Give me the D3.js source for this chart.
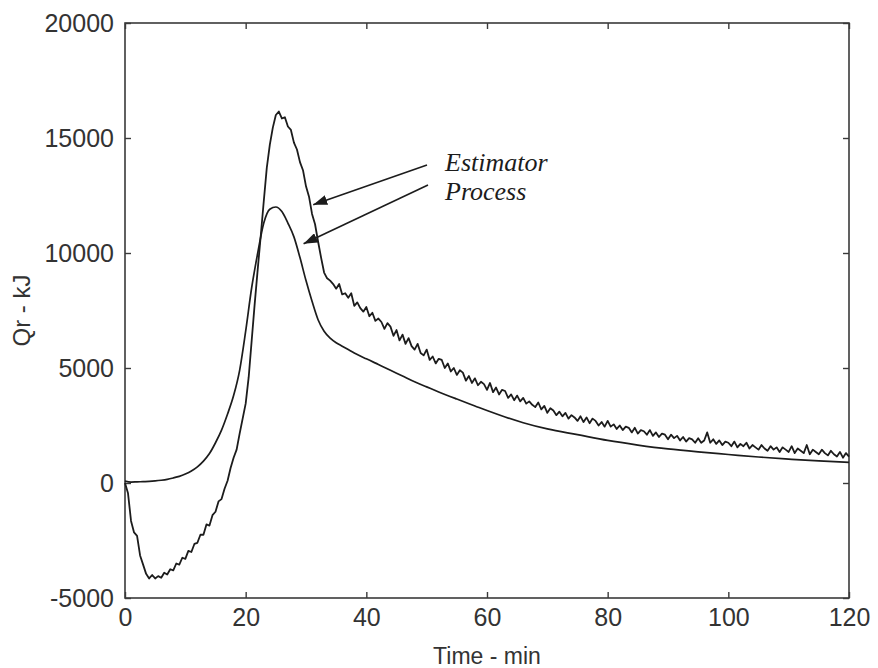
<!DOCTYPE html>
<html><head><meta charset="utf-8">
<script src="https://cdn.jsdelivr.net/npm/d3@7"></script>
<style>body{margin:0;background:#fff}svg{display:block}</style>
</head><body>
<svg id="c" width="878" height="668"></svg>
<script>
// ---- data ----
const xTicks = [0, 20, 40, 60, 80, 100, 120];
const yTicks = [-5000, 0, 5000, 10000, 15000, 20000];

// Process (smooth) curve: time (min) and Qr (kJ)
const procT = [0,1,2,3,4,5,6,7,8,9,10,11,12,13,14,15,16,17,18,19,20,21,22,23,24,25,26,27,28,29,30,31,32,33,34,35,36,37,38,39,40,42,44,46,48,50,52,55,58,60,63,66,70,75,80,85,90,95,100,105,110,115,120];
const procQ = [80,40,50,60,70,90,120,160,220,290,390,520,700,950,1280,1750,2300,3000,3800,4900,6600,8500,10000,11300,11900,12000,11800,11300,10700,9800,8800,7900,7100,6600,6300,6100,5950,5800,5650,5520,5400,5150,4900,4650,4400,4180,3960,3650,3350,3150,2870,2620,2350,2100,1850,1650,1480,1350,1240,1130,1040,960,900];

// Estimator (noisy) curve, sampled every 0.5 min starting at t = 0
const estStart = 0, estStep = 0.5;
const estQ = [
0,-450,-1650,-2150,-2300,-3150,-3550,-3950,-4150,-4000,
-4150,-4050,-4120,-3900,-3980,-3750,-3800,-3500,-3550,-3250,
-3300,-2950,-3000,-2650,-2600,-2250,-2250,-1800,-1850,-1400,
-1250,-800,-700,-250,100,650,1100,1450,2150,2800,
3450,4600,6200,7800,9300,10750,12250,13700,14700,15450,
16000,16150,15850,15900,15500,15350,14800,14500,13950,13600,
12900,12450,11700,11250,10500,9800,
9150,8900,8800,8650,8450,8650,8200,8250,8050,8250,
7700,7850,7600,7450,7650,7250,7400,7050,7150,7000,
6700,6950,6800,6400,6650,6200,6450,6050,6300,5950,
5800,6050,5650,5550,5800,5350,5500,5200,5400,5350,
5000,5200,4850,5000,4700,4900,4800,4450,4650,4350,
4550,4250,4400,4300,4050,4350,3950,4150,3850,4050,
4000,3700,3850,3600,3800,3550,3700,3450,3550,3400,
3300,3500,3200,3350,3050,3250,3150,2950,3100,2900,
3050,2800,2950,2850,2700,2900,2650,2850,2600,2800,
2700,2500,2650,2450,2700,2450,2550,2350,2500,2300,
2450,2400,2200,2400,2150,2300,2250,2100,2300,2050,
2200,2000,2150,2100,1900,2100,1950,2050,1850,2000,
1800,1950,1900,1750,1950,1750,1850,2200,1750,1900,
1700,1850,1650,1800,1750,1600,1800,1550,1700,1600,
1750,1500,1650,1550,1450,1650,1500,1400,1600,1450,
1550,1350,1550,1450,1350,1600,1300,1500,1400,1300,
1650,1250,1450,1350,1250,1450,1300,1200,1400,1250,
1150,1350,1100,1300,1150];

const annLabels = ["Estimator", "Process"];
const annTarget = [[31.2, 12100], [29.6, 10400]]; // arrow tips in data units

// ---- layout ----
const svg = d3.select("#c");
const L = 125, R = 849, T = 23, B = 598;
const x = d3.scaleLinear().domain([0, 120]).range([L, R]);
const y = d3.scaleLinear().domain([-5000, 20000]).range([B, T]);
const ink = "#1c1c1c", frame = "#3a3a3a", txt = "#333";
const font = "'Liberation Sans', Arial, Helvetica, sans-serif";

// frame
svg.append("rect").attr("x", L).attr("y", T).attr("width", R - L).attr("height", B - T)
  .attr("fill", "none").attr("stroke", frame).attr("stroke-width", 1.6);

function styleAxis(g, labels) {
  g.select(".domain").remove();
  g.selectAll(".tick line").attr("stroke", frame).attr("stroke-width", 1.4);
  if (labels) g.selectAll("text").attr("fill", txt).style("font-family", font).style("font-size", "25px");
  else g.selectAll("text").remove();
}
svg.append("g").attr("transform", `translate(0,${B})`)
  .call(d3.axisBottom(x).tickValues(xTicks).tickSize(-6).tickPadding(10).tickFormat(d => String(d)))
  .call(g => styleAxis(g, true));
svg.append("g").attr("transform", `translate(0,${T})`)
  .call(d3.axisTop(x).tickValues(xTicks).tickSize(-6))
  .call(g => styleAxis(g, false));
svg.append("g").attr("transform", `translate(${L},0)`)
  .call(d3.axisLeft(y).tickValues(yTicks).tickSize(-6).tickPadding(11).tickFormat(d => String(d)))
  .call(g => styleAxis(g, true));
svg.append("g").attr("transform", `translate(${R},0)`)
  .call(d3.axisRight(y).tickValues(yTicks).tickSize(-6))
  .call(g => styleAxis(g, false));

// axis titles
svg.append("text").attr("x", (L + R) / 2).attr("y", 664).attr("text-anchor", "middle")
  .attr("fill", txt).style("font-family", font).style("font-size", "23px").text("Time - min");
svg.append("text").attr("transform", `translate(30,${(T + B) / 2}) rotate(-90)`).attr("text-anchor", "middle")
  .attr("fill", txt).style("font-family", font).style("font-size", "24px").text("Qr - kJ");

// curves
const procData = procT.map((t, i) => [t, procQ[i]]);
const estData = estQ.map((v, i) => [estStart + i * estStep, v]);
svg.append("path").datum(procData).attr("fill", "none").attr("stroke", ink).attr("stroke-width", 1.7)
  .attr("d", d3.line().x(d => x(d[0])).y(d => y(d[1])).curve(d3.curveMonotoneX));
svg.append("path").datum(estData).attr("fill", "none").attr("stroke", ink).attr("stroke-width", 1.8)
  .attr("stroke-linejoin", "round").attr("d", d3.line().x(d => x(d[0])).y(d => y(d[1])));

// annotations
svg.append("defs").append("marker").attr("id", "ah").attr("viewBox", "0 0 14 10")
  .attr("refX", 14).attr("refY", 5).attr("markerWidth", 14).attr("markerHeight", 10)
  .attr("markerUnits", "userSpaceOnUse").attr("orient", "auto")
  .append("path").attr("d", "M0,0 L14,5 L0,10 Z").attr("fill", ink);
const startPx = [[427, 165], [428, 185]];
annLabels.forEach((s, i) => {
  svg.append("line").attr("x1", startPx[i][0]).attr("y1", startPx[i][1])
    .attr("x2", x(annTarget[i][0])).attr("y2", y(annTarget[i][1]))
    .attr("stroke", ink).attr("stroke-width", 1.6).attr("marker-end", "url(#ah)");
  svg.append("text").attr("x", 445).attr("y", 171 + i * 29)
    .attr("fill", ink).style("font-family", "'Liberation Serif', 'Times New Roman', serif")
    .style("font-style", "italic").style("font-size", "26px").text(s);
});
</script>
</body></html>
